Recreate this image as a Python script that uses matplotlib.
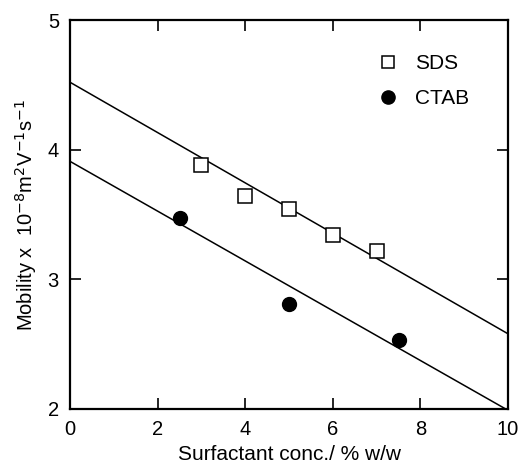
import numpy as np
import matplotlib.pyplot as plt

plt.rcParams['font.family'] = ['Liberation Sans', 'DejaVu Sans']

# data
sds_conc = [3, 4, 5, 6, 7]
sds_mob = [3.88, 3.64, 3.54, 3.34, 3.22]
ctab_conc = [2.5, 5, 7.5]
ctab_mob = [3.47, 2.81, 2.53]

# straight lines drawn on the figure (value at x=0 and x=10)
line_x = [0, 10]
sds_line = [4.52, 2.58]
ctab_line = [3.91, 1.99]

fig = plt.figure(figsize=(5.19, 4.67), dpi=100)
ax = fig.add_axes([70 / 519, 58 / 467, 438 / 519, 389 / 467])

ax.plot(line_x, sds_line, color='black', lw=1.1)
ax.plot(line_x, ctab_line, color='black', lw=1.1)
ax.plot(sds_conc, sds_mob, 's', ms=9.5, mfc='white', mec='black', mew=1.1, label='SDS')
ax.plot(ctab_conc, ctab_mob, 'o', ms=10, mfc='black', mec='black', label='CTAB')

ax.set_xlim(0, 10)
ax.set_ylim(2, 5)
ax.set_xticks([0, 2, 4, 6, 8, 10])
ax.set_yticks([2, 3, 4, 5])
ax.tick_params(direction='in', top=True, right=True, length=8, width=1.2,
               labelsize=14.5, pad=8)
for s in ax.spines.values():
    s.set_linewidth(1.6)

ax.set_xlabel('Surfactant conc./ % w/w', fontsize=15, labelpad=4)
ax.set_ylabel('Mobility x  10$^{-8}$m$^2$V$^{-1}$s$^{-1}$', fontsize=14.5, labelpad=6)

ax.legend(loc='upper right', bbox_to_anchor=(0.955, 0.96), frameon=False,
          fontsize=15, handletextpad=0.3, labelspacing=0.75, markerscale=0.95)

fig.savefig('out.png', dpi=100)
